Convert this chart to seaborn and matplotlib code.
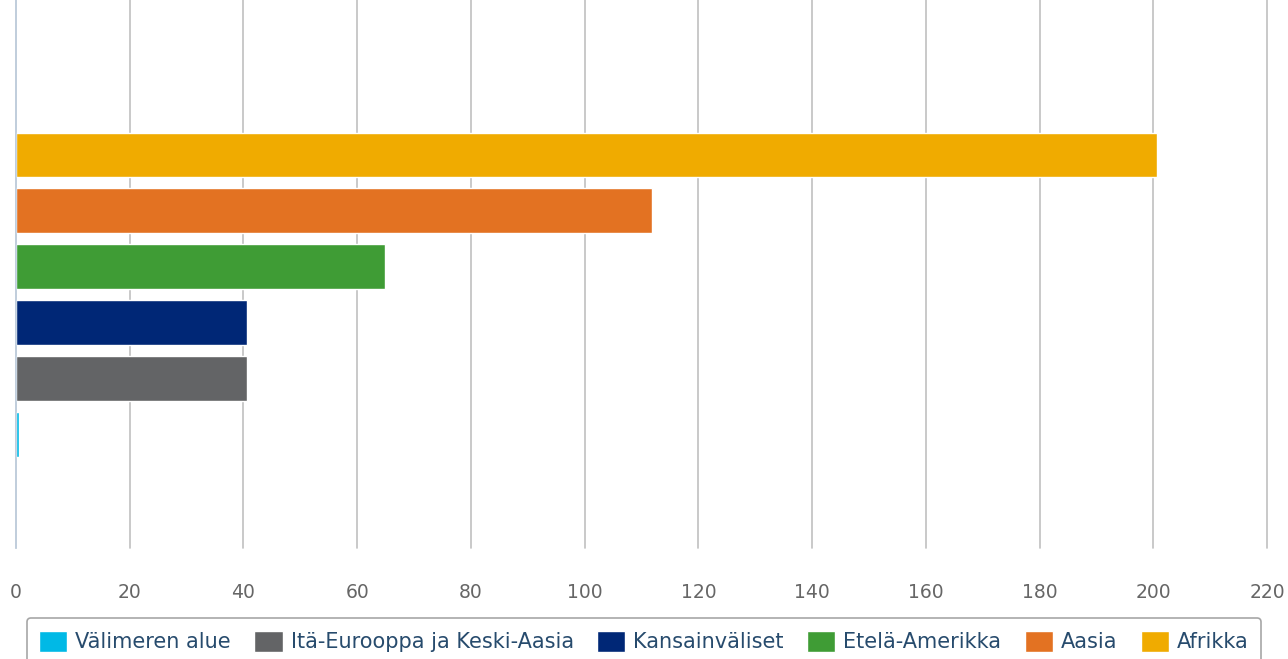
import pandas as pd
import seaborn as sns
import matplotlib.pyplot as plt

# data
regions = ['Afrikka', 'Aasia', 'Etelä-Amerikka', 'Kansainväliset',
           'Itä-Eurooppa ja Keski-Aasia', 'Välimeren alue']
values = [200.7, 111.9, 64.9, 40.7, 40.7, 0.6]
colors = ['#f0ab00', '#e37222', '#3f9c35', '#002776', '#636466', '#00b9e6']
legend_order = ['Välimeren alue', 'Itä-Eurooppa ja Keski-Aasia', 'Kansainväliset',
                'Etelä-Amerikka', 'Aasia', 'Afrikka']
xticks = list(range(0, 221, 20))

df = pd.DataFrame({'region': regions, 'value': values})
palette = dict(zip(regions, colors))

sns.set_style('white')
plt.rcParams['font.family'] = ['DejaVu Sans']

fig = plt.figure(figsize=(12.88, 6.59), dpi=100)
ax = fig.add_axes([16 / 1288, 111 / 659, 1251 / 1288, 548 / 659])

sns.barplot(data=df, y='region', x='value', hue='region', palette=palette,
            order=regions, hue_order=regions, dodge=False, width=0.8,
            saturation=1, edgecolor='white', linewidth=1, ax=ax, legend=True)

ax.set_xlim(0, 220)
ax.set_ylim(7.03, -2.77)
ax.set_xticks(xticks)
ax.set_xticklabels([str(t) for t in xticks], color='#666666', fontsize=13.5)
ax.tick_params(axis='x', length=0, pad=25)
ax.set_yticks([])
ax.set_xlabel('')
ax.set_ylabel('')
ax.grid(axis='x', color='#c0c0c0', linewidth=1.2)
for gl in ax.get_xgridlines():
    gl.set_clip_on(False)
ax.set_axisbelow(True)
for s in ['top', 'right', 'bottom']:
    ax.spines[s].set_visible(False)
ax.spines['left'].set_color('#c0d0e0')
ax.spines['left'].set_linewidth(1.2)

# legend below the plot, in the original order
handles, labels = ax.get_legend_handles_labels()
lookup = dict(zip(labels, handles))
ax.get_legend().remove()
leg = fig.legend([lookup[l] for l in legend_order], legend_order,
                 loc='upper center', bbox_to_anchor=(0.5, 1 - 618 / 659),
                 ncol=6, fontsize=15, frameon=True, fancybox=True,
                 handlelength=1.35, handleheight=1.2, handletextpad=0.38,
                 columnspacing=1.13, borderpad=0.6, borderaxespad=0)
leg.get_frame().set_edgecolor('#909090')
leg.get_frame().set_linewidth(1.2)
for t in leg.get_texts():
    t.set_color('#274b6d')

fig.savefig('out.png', dpi=100)
